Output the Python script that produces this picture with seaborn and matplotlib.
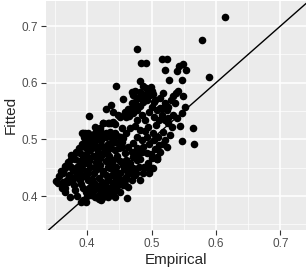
import matplotlib
matplotlib.use("Agg")
import matplotlib.pyplot as plt
import pandas as pd
import seaborn as sns

# Empirical vs fitted values
empirical = [
    0.6145, 0.5777, 0.5886, 0.4767, 0.4829, 0.4912, 0.5166, 0.5244, 0.5207, 0.5389,
    0.5425, 0.5492, 0.5534, 0.5275, 0.5466, 0.4819, 0.4446, 0.4860, 0.5648, 0.5658,
    0.5472, 0.5440, 0.5285, 0.4622, 0.4181, 0.4031, 0.5482, 0.5518, 0.5466, 0.5326,
    0.5181, 0.4378, 0.4290, 0.4560, 0.4741, 0.4689, 0.5026, 0.5052, 0.5130, 0.5233,
    0.5259, 0.5207,
    # left edge
    0.3513, 0.3549, 0.3627, 0.3663, 0.3731, 0.3756, 0.3617, 0.3653, 0.3731, 0.3705,
    0.3772, 0.3782, 0.3808, 0.3845, 0.3886, 0.3912, 0.3938, 0.3979, 0.3896, 0.3938,
    0.4000, 0.3969, 0.3927, 0.3876, 0.3834, 0.3990, 0.4016, 0.4041, 0.4067, 0.4093,
    0.4119, 0.4041, 0.4093, 0.4145, 0.4171, 0.4197, 0.4249, 0.4197, 0.4259, 0.4145,
    0.4223, 0.4301, 0.4352, 0.4394, 0.4404, 0.4327, 0.4301, 0.4249, 0.4223, 0.4290,
    0.4197, 0.4249, 0.4327, 0.4378, 0.4430, 0.4456, 0.4482, 0.4430, 0.4404, 0.4456,
    0.4508, 0.4534, 0.4585, 0.4466, 0.4575, 0.4611, 0.4585, 0.4534, 0.4560, 0.4611,
    0.4663, 0.4534, 0.4508, 0.4570, 0.4653, 0.4715, 0.4767, 0.4819, 0.4870, 0.4922,
    0.4777, 0.4845, 0.4896, 0.4964, 0.5000, 0.5036, 0.4741, 0.4819, 0.4896, 0.4948,
    0.5067, 0.5119, 0.5016, 0.4922, 0.4845, 0.4767, 0.4705, 0.4637, 0.4689, 0.4767,
    0.4870, 0.4964, 0.5036, 0.5104, 0.5181, 0.5114, 0.5047, 0.5078, 0.4999, 0.4948,
    0.4922, 0.4964, 0.4819, 0.4767, 0.4715, 0.4663, 0.4705, 0.4756, 0.4663, 0.4611,
    0.4689, 0.4741, 0.4601, 0.4637,
    # upper area
    0.4922, 0.4974, 0.4870, 0.4793, 0.4741, 0.4689, 0.4767, 0.4715, 0.4637, 0.4585,
    0.4819, 0.4705, 0.4611, 0.4482, 0.4404, 0.5207, 0.5259, 0.5171, 0.5295, 0.5363,
    0.5326, 0.5389, 0.5249, 0.5316, 0.5161, 0.5083, 0.5031, 0.5124, 0.4984, 0.5000,
    0.4912, 0.5373, 0.5409,
    # right of the cluster
    0.5207, 0.5171, 0.5233, 0.5130, 0.5078, 0.5000, 0.4870, 0.4819, 0.4881, 0.4922,
    0.4845, 0.4782, 0.4813, 0.5000,
    # lower right of the cluster
    0.4446, 0.4482, 0.4560, 0.4430, 0.4508, 0.4637, 0.4585,
    # dense core
    0.400, 0.405, 0.410, 0.415, 0.420, 0.425, 0.430, 0.435, 0.408, 0.413,
    0.418, 0.423, 0.428, 0.433, 0.438, 0.403, 0.409, 0.414, 0.419, 0.424,
    0.429, 0.434, 0.439, 0.444, 0.398, 0.404, 0.410, 0.416, 0.422, 0.427,
    0.432, 0.437, 0.442, 0.447, 0.395, 0.392, 0.397, 0.402, 0.406, 0.411,
    0.416, 0.421, 0.426, 0.431, 0.436, 0.441, 0.446, 0.451, 0.455, 0.449,
    0.454, 0.451, 0.444, 0.437, 0.430, 0.423, 0.417, 0.412, 0.407, 0.401,
    0.396, 0.393, 0.388, 0.385, 0.382, 0.386, 0.390, 0.394, 0.398, 0.403,
    0.400, 0.407, 0.412, 0.418, 0.425, 0.432, 0.380, 0.377, 0.372, 0.368,
    0.383, 0.388, 0.392, 0.381, 0.375, 0.370, 0.366, 0.360, 0.357, 0.362,
    0.366, 0.395, 0.392, 0.402,
    # upper middle
    0.4145, 0.4197, 0.4352, 0.4404, 0.4363, 0.4430, 0.4508, 0.4119, 0.4240, 0.4340,
    0.4400, 0.3960, 0.4040, 0.4200, 0.4910, 0.5030, 0.5080,
]

fitted = [
    0.7165, 0.6753, 0.6094, 0.6588, 0.6353, 0.6341, 0.6412, 0.6412, 0.6224, 0.6212,
    0.6294, 0.6329, 0.6224, 0.6047, 0.6047, 0.6024, 0.5941, 0.5941, 0.5194, 0.4918,
    0.4976, 0.5235, 0.5076, 0.3959, 0.3941, 0.5412, 0.5765, 0.5576, 0.5459, 0.5765,
    0.5812, 0.5606, 0.5529, 0.5706, 0.5859, 0.5841, 0.5800, 0.5694, 0.5547, 0.5518,
    0.5371, 0.5341,
    # left edge
    0.4265, 0.4235, 0.4400, 0.4535, 0.4535, 0.4647, 0.4135, 0.4076, 0.3988, 0.4253,
    0.4282, 0.4459, 0.4106, 0.4000, 0.4282, 0.3900, 0.3929, 0.3900, 0.4753, 0.5118,
    0.5076, 0.4871, 0.4547, 0.4400, 0.4353, 0.4694, 0.4400, 0.4135, 0.4018, 0.4253,
    0.4518, 0.4929, 0.5047, 0.4988, 0.4782, 0.4665, 0.4400, 0.4165, 0.4047, 0.3988,
    0.3929, 0.4165, 0.4106, 0.4047, 0.4224, 0.4518, 0.4753, 0.4871, 0.4988, 0.5035,
    0.5194, 0.5282, 0.5294, 0.5294, 0.5271, 0.5076, 0.4929, 0.4812, 0.4635, 0.4518,
    0.4400, 0.4282, 0.4194, 0.4312, 0.4488, 0.4635, 0.4753, 0.4871, 0.5018, 0.5106,
    0.5194, 0.5194, 0.5388, 0.5429, 0.5412, 0.5459, 0.5518, 0.5588, 0.5665, 0.5694,
    0.5341, 0.5429, 0.5341, 0.5488, 0.5576, 0.5388, 0.5235, 0.5165, 0.5147, 0.5224,
    0.5253, 0.5341, 0.5118, 0.5047, 0.4988, 0.5047, 0.4941, 0.4871, 0.4782, 0.4841,
    0.4871, 0.4918, 0.4988, 0.5047, 0.5135, 0.4894, 0.4824, 0.4694, 0.4741, 0.4576,
    0.4518, 0.4412, 0.4647, 0.4635, 0.4682, 0.4576, 0.4488, 0.4400, 0.4400, 0.4341,
    0.4282, 0.4371, 0.4459, 0.4518,
    # upper area
    0.5824, 0.5782, 0.5765, 0.5724, 0.5665, 0.5635, 0.5588, 0.5565, 0.5529, 0.5488,
    0.5841, 0.5782, 0.5400, 0.5429, 0.5488, 0.5635, 0.5576, 0.5547, 0.5694, 0.5635,
    0.5429, 0.5371, 0.5294, 0.5224, 0.5429, 0.5518, 0.5665, 0.5724, 0.5929, 0.5859,
    0.5900, 0.5812, 0.5853,
    # right of the cluster
    0.4988, 0.4918, 0.4871, 0.4782, 0.4647, 0.4488, 0.4400, 0.4282, 0.4518, 0.4753,
    0.4782, 0.4724, 0.4518, 0.4665,
    # lower right of the cluster
    0.4118, 0.4200, 0.4200, 0.3988, 0.4076, 0.4165, 0.4282,
    # dense core
    0.445, 0.452, 0.440, 0.448, 0.455, 0.445, 0.438, 0.450, 0.430, 0.422,
    0.432, 0.425, 0.418, 0.428, 0.437, 0.462, 0.470, 0.460, 0.468, 0.475,
    0.462, 0.470, 0.458, 0.445, 0.475, 0.482, 0.490, 0.483, 0.490, 0.482,
    0.492, 0.485, 0.495, 0.470, 0.435, 0.448, 0.458, 0.428, 0.418, 0.410,
    0.415, 0.408, 0.412, 0.405, 0.415, 0.425, 0.435, 0.462, 0.455, 0.485,
    0.495, 0.505, 0.512, 0.505, 0.512, 0.510, 0.518, 0.512, 0.500, 0.493,
    0.500, 0.468, 0.462, 0.452, 0.442, 0.432, 0.422, 0.415, 0.408, 0.415,
    0.400, 0.405, 0.398, 0.402, 0.398, 0.398, 0.420, 0.450, 0.438, 0.428,
    0.478, 0.485, 0.492, 0.465, 0.472, 0.460, 0.450, 0.445, 0.435, 0.425,
    0.415, 0.505, 0.512, 0.512,
    # upper middle
    0.5135, 0.5059, 0.5135, 0.5047, 0.4929, 0.4959, 0.5047, 0.5224, 0.5290, 0.5290,
    0.5300, 0.5110, 0.5080, 0.5160, 0.4520, 0.4490, 0.4650,
]

df = pd.DataFrame({"Empirical": empirical, "Fitted": fitted})

sns.set_theme(style="darkgrid", rc={
    "axes.facecolor": "#EBEBEB",
    "grid.color": "white",
    "axes.edgecolor": "none",
    "xtick.bottom": True,
    "ytick.left": True,
    "xtick.color": "#333333",
    "ytick.color": "#333333",
    "xtick.major.size": 3.5,
    "ytick.major.size": 3.5,
    "xtick.major.width": 0.8,
    "ytick.major.width": 0.8,
    "xtick.major.pad": 2,
    "ytick.major.pad": 2,
})
plt.rcParams["font.family"] = ["Liberation Sans", "DejaVu Sans"]

fig, ax = plt.subplots(figsize=(3.08, 2.73), dpi=100)
fig.subplots_adjust(left=0.149, right=0.994, bottom=0.157, top=0.998)

sns.scatterplot(data=df, x="Empirical", y="Fitted", ax=ax, color="black",
                s=30, linewidth=0, zorder=3)
ax.axline((0, 0), slope=1, color="black", linewidth=1.0, zorder=4)

ax.set_xlim(0.336, 0.740)
ax.set_ylim(0.340, 0.745)
ticks = [0.4, 0.5, 0.6, 0.7]
ax.set_xticks(ticks)
ax.set_yticks(ticks)
ax.set_xticklabels(["0.4", "0.5", "0.6", "0.7"])
ax.set_yticklabels(["0.4", "0.5", "0.6", "0.7"])
ax.set_xticks([0.35, 0.45, 0.55, 0.65], minor=True)
ax.set_yticks([0.35, 0.45, 0.55, 0.65], minor=True)
ax.tick_params(which="minor", length=0)
ax.tick_params(which="major", labelsize=8.5, labelcolor="#4D4D4D")
ax.grid(which="major", color="white", linewidth=1.1)
ax.grid(which="minor", color="white", linewidth=0.5)

ax.set_xlabel("Empirical", fontsize=11, labelpad=2)
ax.set_ylabel("Fitted", fontsize=11, labelpad=3)

fig.savefig("out.png", dpi=100)
